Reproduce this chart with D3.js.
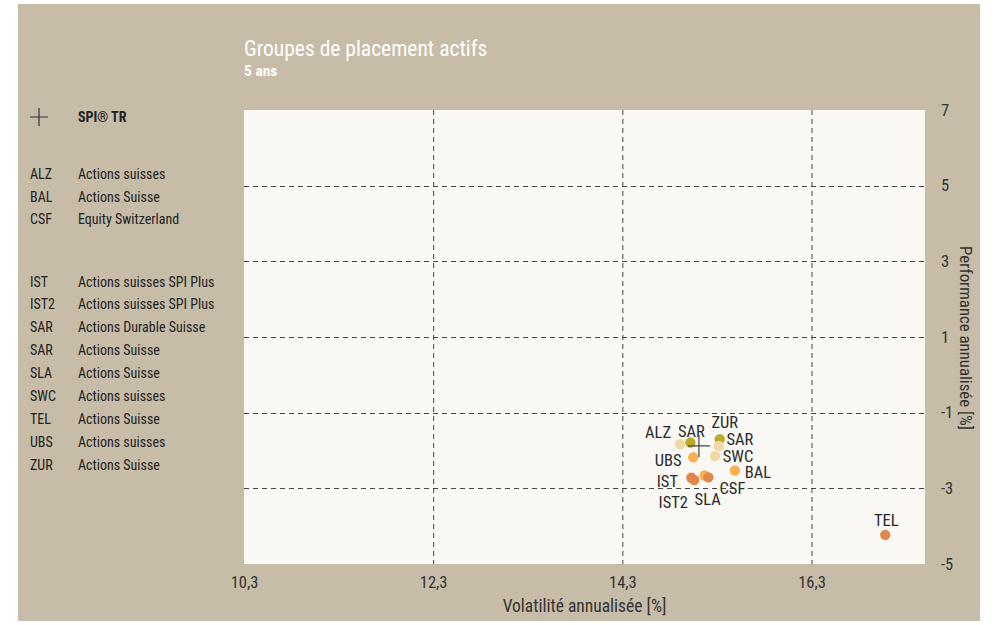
<!DOCTYPE html>
<html><head><meta charset="utf-8">
<script src="https://cdn.jsdelivr.net/npm/d3@7"></script>
<style>
body{margin:0;background:#fff;}
svg text{font-family:"Liberation Sans Narrow","Roboto Condensed","Arial Narrow",sans-serif;}
</style></head>
<body><svg id="c" width="997" height="625"></svg>
<script>
// ---- data ----
const codes = ["ALZ","SAR","ZUR","SAR","SWC","UBS","BAL","IST","IST2","SLA","CSF","TEL"];
const volatility = [14.91,15.02,15.33,15.32,15.28,15.05,15.49,15.03,15.06,15.17,15.21,17.08];
const performance = [-1.83,-1.79,-1.70,-1.88,-2.15,-2.18,-2.53,-2.72,-2.78,-2.66,-2.71,-4.23];
const groups = ["pale","olive","olive","pale","pale","orange","orange","dark","dark","orange","dark","dark"];
const benchmarkName = "SPI® TR";
const benchmark = [15.11,-1.88];
const legendCodes = ["ALZ","BAL","CSF","IST","IST2","SAR","SAR","SLA","SWC","TEL","UBS","ZUR"];
const legendNames = ["Actions suisses","Actions Suisse","Equity Switzerland","Actions suisses SPI Plus","Actions suisses SPI Plus","Actions Durable Suisse","Actions Suisse","Actions Suisse","Actions suisses","Actions Suisse","Actions suisses","Actions Suisse"];
const xTicks = [10.3,12.3,14.3,16.3];
const yTicks = [7,5,3,1,-1,-3,-5];
const title = "Groupes de placement actifs";
const subtitle = "5 ans";
const xTitle = "Volatilité annualisée [%]";
const yTitle = "Performance annualisée [%]";

// ---- layout (positions / styles) ----
const colors = {pale:"#f2d8a4", olive:"#bcab26", orange:"#f7b150", dark:"#e0874e"};
// label offsets (px) relative to each point, same order as codes
const labelOffsets = [[-22,-12],[1,-11],[5,-17],[21,-7],[23,0],[-25,3],[23,2],[-24,3],[-21,22],[3,24],[24,11],[1,-15]];

const svg = d3.select("#c");
svg.append("rect").attr("x",18).attr("y",4).attr("width",962).attr("height",617).attr("fill","#c7bca8");

const x = d3.scaleLinear().domain([10.3,17.5]).range([244,925]);
const y = d3.scaleLinear().domain([-5,7]).range([564,110]);

svg.append("rect").attr("x",x(10.3)).attr("y",y(7)).attr("width",x(17.5)-x(10.3)).attr("height",y(-5)-y(7)).attr("fill","#f9f8f4");

// gridlines
const g = svg.append("g");
g.selectAll("line.v").data(xTicks.slice(1)).join("line")
  .attr("x1",d=>x(d)+0.5).attr("x2",d=>x(d)+0.5).attr("y1",y(7)).attr("y2",y(-5))
  .attr("stroke","#444").attr("stroke-width",1).attr("stroke-dasharray","5,4");
g.selectAll("line.h").data(yTicks.filter(d=>d!==7&&d!==-5)).join("line")
  .attr("y1",d=>Math.round(y(d))+0.5).attr("y2",d=>Math.round(y(d))+0.5).attr("x1",x(10.3)).attr("x2",x(17.5))
  .attr("stroke","#444").attr("stroke-width",1).attr("stroke-dasharray","5,4");

// axes
const fmt = d=>String(d).replace(".",",");
const xAxis = d3.axisBottom(x).tickValues(xTicks).tickFormat(fmt).tickSize(0).tickPadding(12);
const xa = svg.append("g").attr("transform",`translate(0,${y(-5)})`).call(xAxis);
xa.select(".domain").remove();
xa.selectAll("text").attr("font-size",16.5).attr("fill","#333").attr("font-family",null);
const yAxis = d3.axisRight(y).tickValues(yTicks).tickFormat(d=>String(d)).tickSize(0).tickPadding(16);
const ya = svg.append("g").attr("transform",`translate(${x(17.5)},0)`).call(yAxis);
ya.select(".domain").remove();
ya.selectAll("text").attr("font-size",16.5).attr("fill","#333").attr("font-family",null);

svg.append("text").attr("x",(x(10.3)+x(17.5))/2).attr("y",612).attr("text-anchor","middle")
  .attr("font-size",17.5).attr("fill","#333").text(xTitle);
svg.append("text").attr("transform",`translate(960,${(y(7)+y(-5))/2+1}) rotate(90)`).attr("text-anchor","middle")
  .attr("font-size",16.8).attr("fill","#333").text(yTitle);

// title
svg.append("text").attr("x",244).attr("y",56).attr("font-size",21.5).attr("fill","#fff").text(title);
svg.append("text").attr("x",244).attr("y",76).attr("font-size",15.5).attr("font-weight","bold").attr("fill","#fff").text(subtitle);

// points
const pts = codes.map((c,i)=>({c,x:volatility[i],y:performance[i],g:groups[i],o:labelOffsets[i]}));
svg.append("g").selectAll("circle").data(pts).join("circle")
  .attr("cx",d=>x(d.x)).attr("cy",d=>y(d.y)).attr("r",5.2).attr("fill",d=>colors[d.g]);
svg.append("g").selectAll("text").data(pts).join("text")
  .attr("x",d=>x(d.x)+d.o[0]).attr("y",d=>y(d.y)+d.o[1]).attr("text-anchor","middle").attr("dy","0.35em")
  .attr("font-size",16.5).attr("fill","#2a2a2a").text(d=>d.c);

// benchmark cross
const bx = x(benchmark[0]), by = y(benchmark[1]);
svg.append("path").attr("d",`M${bx-11},${by}H${bx+11}M${bx},${by-11}V${by+11}`).attr("stroke","#444").attr("stroke-width",1.2).attr("fill","none");

// legend
svg.append("path").attr("d",`M30,117H48M39,108V126`).attr("stroke","#333").attr("stroke-width",1.2);
svg.append("text").attr("x",78).attr("y",122).attr("font-size",14).attr("font-weight","bold").attr("fill","#222").text(benchmarkName);
const ly = [179,202,224,287,309,332,355,378,401,424,447,470];
const lg = svg.append("g");
legendCodes.forEach((c,i)=>{
  lg.append("text").attr("x",30).attr("y",ly[i]).attr("font-size",14).attr("fill","#222").text(c);
  lg.append("text").attr("x",78).attr("y",ly[i]).attr("font-size",14).attr("fill","#222").text(legendNames[i]);
});
</script></body></html>
